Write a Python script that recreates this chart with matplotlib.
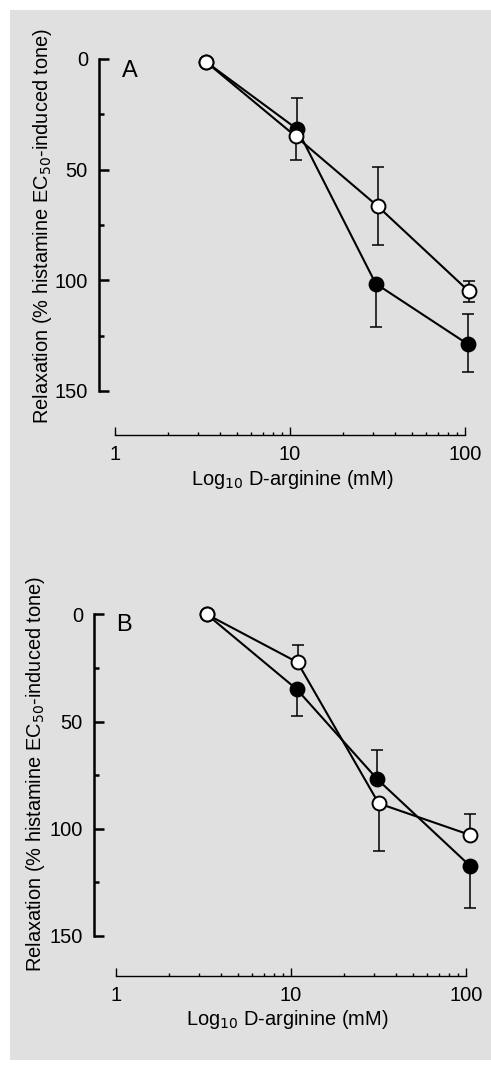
import matplotlib.pyplot as plt
from matplotlib.patches import Rectangle
from matplotlib.ticker import NullFormatter, FixedLocator

plt.rcParams["font.family"] = ["Liberation Sans", "DejaVu Sans"]

# Panel A data (D-arginine, mM vs relaxation %)
a_open_x = [3.3, 10.8, 31.7, 105.4]
a_open_y = [1.2, 35.0, 66.5, 105.0]
a_open_lo = [0, 0, 17.8, 4.7]
a_open_hi = [0, 10.7, 17.5, 4.6]

a_fill_x = [3.3, 11.0, 30.9, 104.5]
a_fill_y = [1.2, 31.7, 101.5, 129.0]
a_fill_lo = [0, 14.1, 0, 14.0]
a_fill_hi = [0, 0, 19.5, 12.3]

# Panel B data
b_open_x = [3.3, 10.9, 31.7, 105.4]
b_open_y = [0.0, 22.4, 88.2, 102.9]
b_open_lo = [0, 8.1, 0, 9.6]
b_open_hi = [0, 0, 22.2, 0]

b_fill_x = [3.3, 10.8, 31.2, 105.0]
b_fill_y = [0.0, 35.0, 77.0, 117.2]
b_fill_lo = [0, 0, 13.5, 0]
b_fill_hi = [0, 12.3, 0, 19.8]

yticks = [0, 50, 100, 150]
yminor = [25, 75, 125]
xticks = [1, 10, 100]
xminor = [2, 3, 4, 5, 6, 7, 8, 9, 20, 30, 40, 50, 60, 70, 80, 90]
ylabel = "Relaxation (% histamine EC$_{50}$-induced tone)"
xlabel = "Log$_{10}$ D-arginine (mM)"

W, H = 491, 1065
fig = plt.figure(figsize=(W / 100, H / 100), dpi=100)
fig.patch.set_facecolor("white")
fig.patches.append(Rectangle((10 / W, 1 - 1060 / H), 1 - 10 / W, 1050 / H,
                             transform=fig.transFigure, facecolor="#e0e0e0",
                             edgecolor="none", zorder=-5))


def px(left, top, right, bottom):
    return [left / W, 1 - bottom / H, (right - left) / W, (bottom - top) / H]


def draw_panel(ax, ox, oy, olo, ohi, fx, fy, flo, fhi, xlim, ylim):
    ax.set_zorder(2)
    ax.set_facecolor("none")
    ax.set_xscale("log")
    ax.set_xlim(*xlim)
    ax.set_ylim(*ylim)

    # error bars behind everything
    ax.errorbar(fx, fy, yerr=[flo, fhi], fmt="none", ecolor="black",
                elinewidth=1.1, capsize=4, capthick=1.1, zorder=1)
    ax.errorbar(ox, oy, yerr=[olo, ohi], fmt="none", ecolor="black",
                elinewidth=1.1, capsize=4, capthick=1.1, zorder=1)
    # connecting lines
    ax.plot(fx, fy, color="black", lw=1.5, zorder=2)
    ax.plot(ox, oy, color="black", lw=1.5, zorder=2)
    # markers
    ax.plot(fx, fy, "o", ms=10, mfc="black", mec="black", mew=1.4, zorder=3)
    ax.plot(ox, oy, "o", ms=10, mfc="white", mec="black", mew=1.4, zorder=4)

    for s in ["top", "right"]:
        ax.spines[s].set_visible(False)
    ax.spines["left"].set_bounds(0, 150)
    ax.spines["left"].set_linewidth(1.8)
    ax.spines["bottom"].set_bounds(1, 100)
    ax.spines["bottom"].set_linewidth(1.0)

    ax.yaxis.set_major_locator(FixedLocator(yticks))
    ax.yaxis.set_minor_locator(FixedLocator(yminor))
    ax.tick_params(axis="y", which="major", direction="in", length=7,
                   width=1.8, pad=8, labelsize=14.4)
    ax.tick_params(axis="y", which="minor", direction="in", length=3.5,
                   width=1.8)

    ax.xaxis.set_major_locator(FixedLocator(xticks))
    ax.set_xticklabels([str(t) for t in xticks])
    ax.xaxis.set_minor_locator(FixedLocator(xminor))
    ax.xaxis.set_minor_formatter(NullFormatter())
    ax.tick_params(axis="x", which="major", direction="in", length=5.5,
                   width=1.0, pad=7, labelsize=14.4)
    ax.tick_params(axis="x", which="minor", direction="in", length=2.2,
                   width=1.0)
    return ax


axA = fig.add_axes(px(99, 37, 480, 435))
draw_panel(axA, a_open_x, a_open_y, a_open_lo, a_open_hi,
           a_fill_x, a_fill_y, a_fill_lo, a_fill_hi,
           (0.81, 121.9), (169.9, -9.94))

axB = fig.add_axes(px(94, 592, 480, 976))
draw_panel(axB, b_open_x, b_open_y, b_open_lo, b_open_hi,
           b_fill_x, b_fill_y, b_fill_lo, b_fill_hi,
           (0.749, 120.2), (168.7, -10.4))

# panel letters
fig.text(122 / W, 1 - 77 / H, "A", fontsize=17, ha="left", va="baseline")
fig.text(116 / W, 1 - 631 / H, "B", fontsize=17, ha="left", va="baseline")

# axis labels
fig.text(43 / W, 1 - 226 / H, ylabel, rotation=90, fontsize=14.4,
         ha="center", va="center")
fig.text(292 / W, 1 - 485 / H, xlabel, fontsize=14.4, ha="center",
         va="baseline")
fig.text(36 / W, 1 - 774 / H, ylabel, rotation=90, fontsize=14.4,
         ha="center", va="center")
fig.text(287 / W, 1 - 1025 / H, xlabel, fontsize=14.4, ha="center",
         va="baseline")

fig.savefig("out.png", dpi=100)
